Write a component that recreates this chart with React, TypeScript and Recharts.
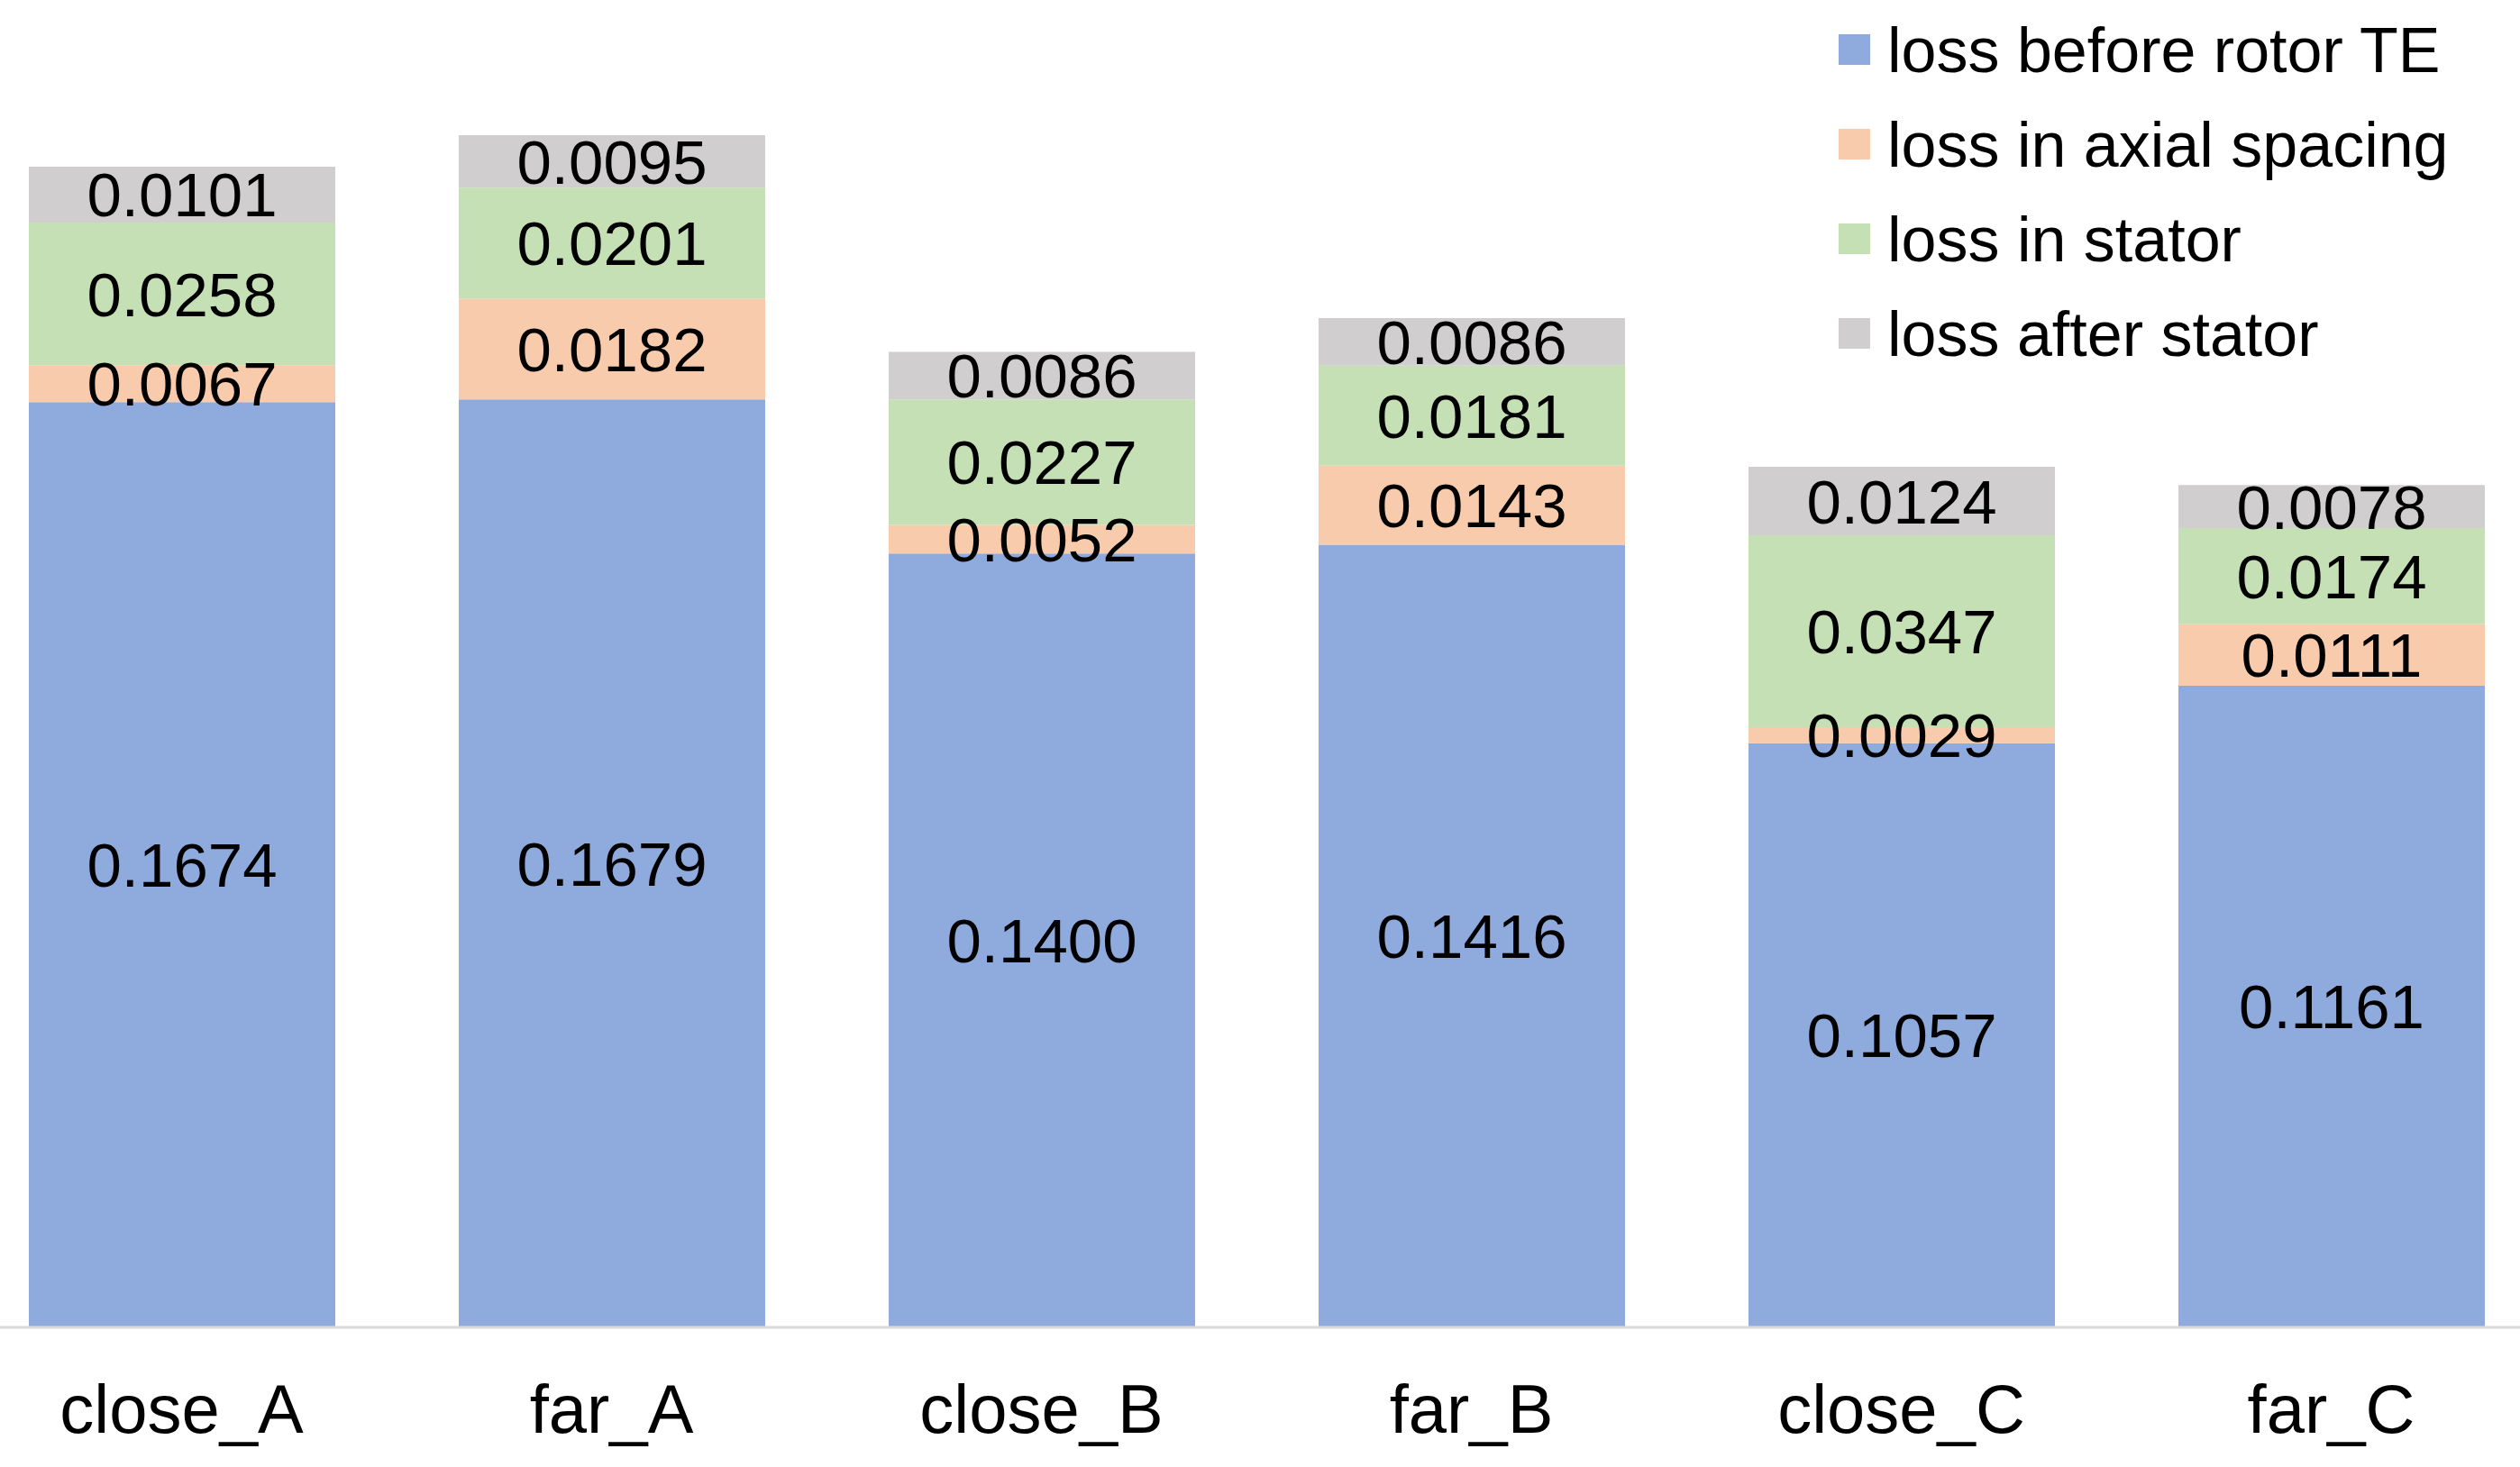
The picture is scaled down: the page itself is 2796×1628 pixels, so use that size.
import React from "react";
import { BarChart, Bar, XAxis, YAxis, Legend, LabelList } from "recharts";

const categories = ["close_A", "far_A", "close_B", "far_B", "close_C", "far_C"];
const lossBeforeRotorTE = [0.1674, 0.1679, 0.14, 0.1416, 0.1057, 0.1161];
const lossInAxialSpacing = [0.0067, 0.0182, 0.0052, 0.0143, 0.0029, 0.0111];
const lossInStator = [0.0258, 0.0201, 0.0227, 0.0181, 0.0347, 0.0174];
const lossAfterStator = [0.0101, 0.0095, 0.0086, 0.0086, 0.0124, 0.0078];

const seriesNames = ["loss before rotor TE", "loss in axial spacing", "loss in stator", "loss after stator"];
const seriesColors = ["#8FAADC", "#F8CBAD", "#C5E0B4", "#D0CECE"];

const FONT = "'Liberation Sans', Arial, sans-serif";

const data = categories.map((name, i) => ({
  name,
  before: lossBeforeRotorTE[i],
  axial: lossInAxialSpacing[i],
  stator: lossInStator[i],
  after: lossAfterStator[i],
}));

const keys = ["before", "axial", "stator", "after"];

const LegendBox = () => (
  <svg width={720} height={420} style={{ display: "block" }}>
    {seriesNames.map((n, i) => (
      <g key={n}>
        <rect x={0} y={38 + i * 105} width={35} height={34} fill={seriesColors[i]} />
        <text x={54} y={80 + i * 105} fontSize={70} fontFamily={FONT} fill="#000">
          {n}
        </text>
      </g>
    ))}
  </svg>
);

export default function App() {
  const shift = 37.5;
  return (
    <div style={{ position: "absolute", left: 0, top: 0, width: 2796, height: 1628, overflow: "hidden", background: "#fff" }}>
      <div style={{ position: "absolute", left: -shift, top: 0 }}>
        <BarChart
          width={2862}
          height={1628}
          data={data}
          margin={{ top: 1, right: 0, left: 0, bottom: 0 }}
          barSize={340}
        >
          <XAxis
            dataKey="name"
            height={155}
            tickLine={false}
            axisLine={{ stroke: "#D9D9D9", strokeWidth: 3 }}
            tickMargin={57}
            tick={{ fontSize: 76, fill: "#000", fontFamily: FONT }}
            interval={0}
          />
          <YAxis hide domain={[0, 0.24]} />
          <Legend
            layout="horizontal"
            verticalAlign="middle"
            align="center"
            content={<LegendBox />}
            wrapperStyle={{ left: 2040 + shift, top: 0, width: 720, height: 420 }}
          />
          {keys.map((k, i) => (
            <Bar key={k} dataKey={k} name={seriesNames[i]} stackId="a" fill={seriesColors[i]} isAnimationActive={false}>
              <LabelList
                dataKey={k}
                position="center"
                formatter={(v: number) => v.toFixed(4)}
                style={{ fontSize: 69, fill: "#000", fontFamily: FONT }}
              />
            </Bar>
          ))}
        </BarChart>
      </div>
    </div>
  );
}
